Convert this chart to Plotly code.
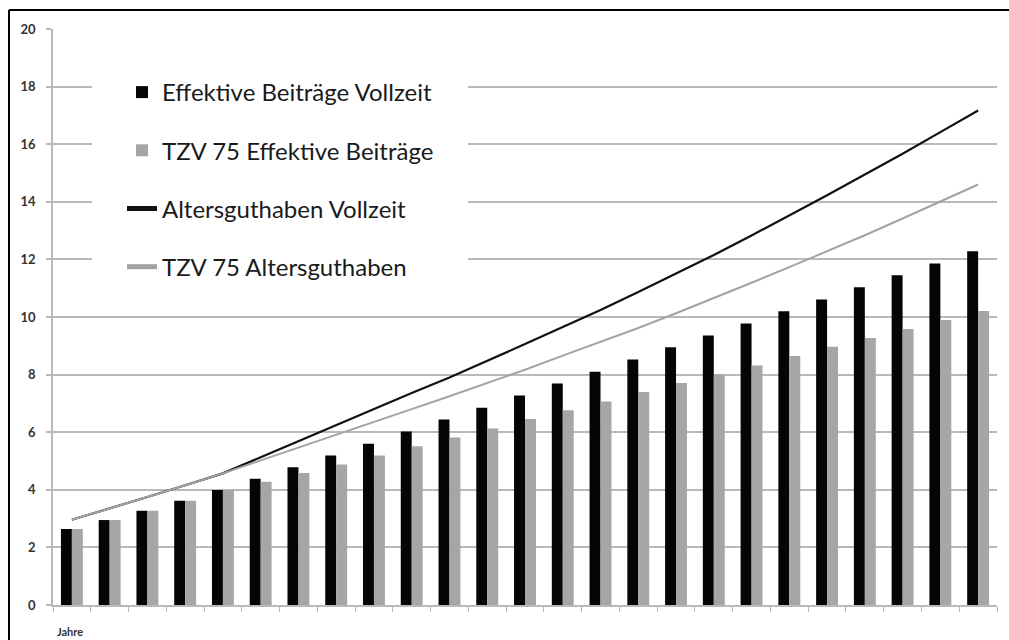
import plotly.graph_objects as go

# Jahre (Kategorien der x-Achse)
jahre = [str(j) for j in range(1, 26)]

# Effektive Beiträge (Balken)
beitraege_vollzeit = [2.64, 2.95, 3.27, 3.62, 3.99, 4.38, 4.78, 5.19, 5.60, 6.02,
                      6.44, 6.85, 7.27, 7.69, 8.10, 8.52, 8.95, 9.36, 9.77, 10.20,
                      10.61, 11.03, 11.45, 11.86, 12.28]
beitraege_tzv75 = [2.64, 2.95, 3.27, 3.62, 3.99, 4.28, 4.58, 4.88, 5.19, 5.51,
                   5.82, 6.13, 6.46, 6.76, 7.07, 7.40, 7.71, 8.00, 8.32, 8.65,
                   8.97, 9.27, 9.58, 9.90, 10.21]

# Altersguthaben (Linien)
guthaben_vollzeit = [2.96, 3.35, 3.75, 4.16, 4.57, 5.13, 5.69, 6.25, 6.81, 7.36,
                     7.90, 8.47, 9.06, 9.65, 10.24, 10.87, 11.50, 12.15, 12.83, 13.52,
                     14.23, 14.95, 15.67, 16.42, 17.17]
guthaben_tzv75 = [2.96, 3.35, 3.75, 4.16, 4.57, 5.02, 5.46, 5.90, 6.35, 6.80,
                  7.25, 7.70, 8.17, 8.66, 9.14, 9.62, 10.13, 10.65, 11.19, 11.73,
                  12.28, 12.84, 13.42, 14.00, 14.60]

y_ticks = [0, 2, 4, 6, 8, 10, 12, 14, 16, 18, 20]

SCHWARZ = "#050505"
GRAU = "#a6a6a6"
GITTER = "#b9b9b9"
FONT = "Lato, 'Open Sans', sans-serif"

fig = go.Figure()
fig.add_trace(go.Bar(x=jahre, y=beitraege_vollzeit, name="Effektive Beiträge Vollzeit",
                     marker=dict(color=SCHWARZ, line=dict(width=0)), legendgroup="a"))
fig.add_trace(go.Bar(x=jahre, y=beitraege_tzv75, name="TZV 75 Effektive Beiträge",
                     marker=dict(color=GRAU, line=dict(width=0)), legendgroup="b"))
fig.add_trace(go.Scatter(x=jahre, y=guthaben_vollzeit, name="Altersguthaben Vollzeit",
                         mode="lines", line=dict(color="#111111", width=2.2), legendgroup="c"))
fig.add_trace(go.Scatter(x=jahre, y=guthaben_tzv75, name="TZV 75 Altersguthaben",
                         mode="lines", line=dict(color="#a3a3a3", width=2.0), legendgroup="d"))

L, R, T, B = 53, 12, 29, 35
W, H = 1009, 640
pw, ph = W - L - R, H - T - B


def px_x(v):
    return (v - L) / pw


def px_y(v):
    return (H - B - v) / ph


fig.update_layout(
    width=W, height=H,
    margin=dict(l=L, r=R, t=T, b=B),
    paper_bgcolor="white", plot_bgcolor="white",
    barmode="group", bargap=0.42, bargroupgap=0,
    font=dict(family=FONT, color="#1a1a1a"),
    showlegend=True,
    legend=dict(
        x=px_x(122), y=px_y(70), xanchor="left", yanchor="top",
        bgcolor="rgba(255,255,255,0)", borderwidth=0,
        font=dict(family=FONT, size=24, color="#1a1a1a"),
        traceorder="grouped", tracegroupgap=24,
        itemsizing="constant",
    ),
    xaxis=dict(
        type="category", showgrid=False, zeroline=False,
        showline=True, linecolor=GITTER, linewidth=1.5,
        ticks="outside", ticklen=5, tickcolor=GITTER, tickwidth=1,
        tickson="boundaries", showticklabels=False,
    ),
    yaxis=dict(
        range=[0, 20], tickvals=y_ticks, ticktext=[str(v) for v in y_ticks],
        showgrid=True, gridcolor=GITTER, gridwidth=1.5, zeroline=False,
        showline=True, linecolor=GITTER, linewidth=1.5,
        ticks="outside", ticklen=5, tickcolor=GITTER, tickwidth=1.5,
        ticklabelstandoff=8,
        tickfont=dict(family=FONT, size=13, color="#333333", weight="bold"),
    ),
    shapes=[
        # weisse Fläche hinter der Legende (verdeckt die Gitterlinien)
        dict(type="rect", xref="paper", yref="paper", layer="above",
             x0=px_x(92), x1=px_x(468), y0=px_y(292), y1=px_y(62),
             fillcolor="white", line=dict(width=0)),
        # Rahmen: obere und linke Kante
        dict(type="line", xref="paper", yref="paper", layer="above",
             x0=px_x(9), x1=px_x(1009), y0=px_y(10), y1=px_y(10),
             line=dict(color="black", width=2)),
        dict(type="line", xref="paper", yref="paper", layer="above",
             x0=px_x(9), x1=px_x(9), y0=px_y(10), y1=px_y(640),
             line=dict(color="black", width=2)),
    ],
    annotations=[
        dict(text="Jahre", xref="paper", yref="paper", x=px_x(55), y=px_y(631),
             xanchor="left", yanchor="middle", showarrow=False,
             font=dict(family=FONT, size=11, color="#333333", weight="bold")),
    ],
)

# Seite ohne Rand und ohne Bildlaufleisten
fig.write_html(
    "out.html",
    post_script="document.body.style.margin='0';document.body.style.overflow='hidden';",
)
